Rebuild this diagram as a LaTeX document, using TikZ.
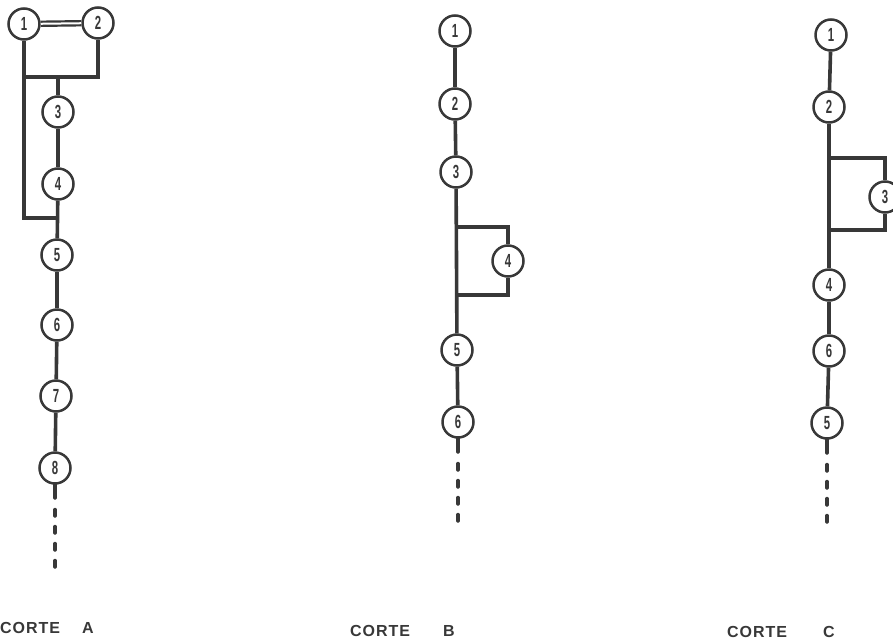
\documentclass[tikz,border=0pt]{standalone}
\usepackage{fontspec}
\setmainfont{Liberation Sans}
\usepackage{graphicx}
\definecolor{ink}{HTML}{383838}
\newcommand{\dg}[1]{\scalebox{0.6}[1]{\fontsize{19}{19}\selectfont\bfseries #1}}
\begin{document}
\begin{tikzpicture}[x=1pt,y=-1pt,
  st/.style={circle, draw=ink, line width=2.5pt, minimum size=31pt, inner sep=0pt, fill=white, text=ink},
  ln/.style={draw=ink, line width=3.6pt},
  tail/.style={draw=ink, line width=4pt, line cap=round,
    dash pattern=on 13pt off 12pt on 6pt off 11pt on 6pt off 11pt on 6pt off 11pt on 6pt off 11pt},
  lab/.style={text=ink, font=\fontsize{16}{16}\selectfont\bfseries\addfontfeature{LetterSpace=6}, inner sep=0pt, anchor=base west}
]
\useasboundingbox (0,0) rectangle (893,640);
\clip (0,0) rectangle (893,640);

% ---------- CORTE A ----------
\node[st] (a1) at (24,24) {\dg{1}};
\node[st] (a2) at (98,23) {\dg{2}};
\node[st] (a3) at (58,112) {\dg{3}};
\node[st] (a4) at (58,184) {\dg{4}};
\node[st] (a5) at (57,255) {\dg{5}};
\node[st] (a6) at (57,325) {\dg{6}};
\node[st] (a7) at (56,396) {\dg{7}};
\node[st] (a8) at (55,468) {\dg{8}};
\coordinate (aj1) at (58,218);
\coordinate (aj2) at (24,77);
\coordinate (aj3) at (58,77);
\coordinate (ae) at (55,574);
\draw[draw=ink, line width=2.2pt, double=white, double distance=2pt] (a1) -- (a2);
\draw[ln] (a1) |- (aj1);
\draw[ln] (a2) |- (aj2);
\draw[ln] (aj3) -- (a3);
\draw[ln] (a3) -- (a4);
\draw[ln] (a4) -- (a5);
\draw[ln] (a5) -- (a6);
\draw[ln] (a6) -- (a7);
\draw[ln] (a7) -- (a8);
\draw[tail] (a8) -- (ae);

% ---------- CORTE B ----------
\node[st] (b1) at (455,31) {\dg{1}};
\node[st] (b2) at (455,104) {\dg{2}};
\node[st] (b3) at (456,172) {\dg{3}};
\node[st] (b4) at (508,261) {\dg{4}};
\node[st] (b5) at (457,350) {\dg{5}};
\node[st] (b6) at (458,422) {\dg{6}};
\coordinate (bj1) at (457,227);
\coordinate (bj2) at (457,295);
\coordinate (be) at (458,530);
\draw[ln] (b1) -- (b2);
\draw[ln] (b2) -- (b3);
\draw[ln] (b3) -- (b5);
\draw[ln] (bj1) -| (b4);
\draw[ln] (b4) |- (bj2);
\draw[ln] (b5) -- (b6);
\draw[tail] (b6) -- (be);

% ---------- CORTE C ----------
\node[st] (c1) at (831,35) {\dg{1}};
\node[st] (c2) at (829,107) {\dg{2}};
\node[st] (c3) at (885,197) {\dg{3}};
\node[st] (c4) at (829,285) {\dg{4}};
\node[st] (c6) at (829,351) {\dg{6}};
\node[st] (c5) at (827,423) {\dg{5}};
\coordinate (cj1) at (828,158);
\coordinate (cj2) at (828,230);
\coordinate (ce) at (827,527);
\draw[ln] (c1) -- (c2);
\draw[ln] (c2) -- (c4);
\draw[ln] (cj1) -| (c3);
\draw[ln] (c3) |- (cj2);
\draw[ln] (c4) -- (c6);
\draw[ln] (c6) -- (c5);
\draw[tail] (c5) -- (ce);

% ---------- labels ----------
\node[lab] (la) at (0,633) {CORTE};
\node[lab] (laa) at (82,633) {A};
\node[lab] (lb) at (350,636) {CORTE};
\node[lab] (lbb) at (443,636) {B};
\node[lab] (lc) at (727,637) {CORTE};
\node[lab] (lcc) at (823,637) {C};
\end{tikzpicture}
\end{document}
